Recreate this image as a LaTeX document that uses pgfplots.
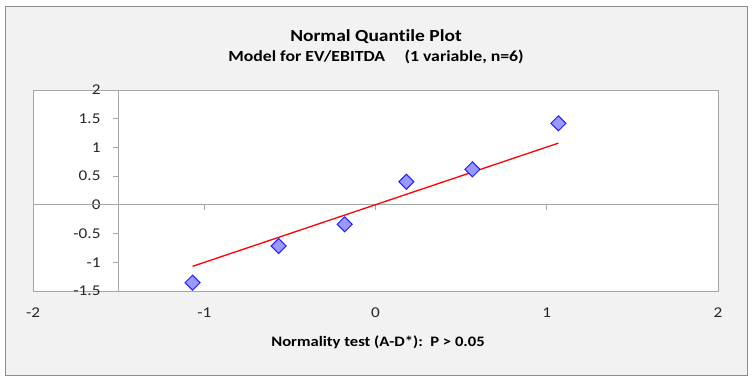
\documentclass[border=0pt]{standalone}
\usepackage{pgfplots}
\pgfplotsset{compat=1.18}
\usepackage{fontspec}
\setmainfont[FakeStretch=1.15, Ligatures={NoCommon}]{Carlito}
\definecolor{bgc}{HTML}{F2F2F2}
\definecolor{brd}{HTML}{8C8C8C}
\definecolor{axc}{HTML}{A6A6A6}
\definecolor{mkf}{HTML}{9999FF}
\definecolor{mke}{HTML}{1F1FFF}
\begin{document}
\begin{tikzpicture}[x=1bp,y=1bp]
\path[use as bounding box] (0,0) rectangle (752,382);
\fill[bgc] (5,7) rectangle (747,375);
\draw[brd,line width=1bp] (5,7) rectangle (747,375);
\node[font=\fontsize{17}{20}\selectfont\bfseries] at (376,345) {Normal Quantile Plot};
\node[font=\fontsize{15.5}{18}\selectfont\bfseries] at (376,325) {Model for EV/EBITDA\quad\ (1 variable, n=6)};
\node[font=\fontsize{14.5}{17}\selectfont\bfseries] at (378,40) {Normality test (A-D*):\ \ P > 0.05};
\begin{axis}[
  at={(33bp,91bp)}, anchor=south west,
  scale only axis, width=685bp, height=201bp,
  xmin=-2, xmax=2, ymin=-1.5, ymax=2,
  axis background/.style={fill=white},
  axis line style={draw=axc, line width=0.8bp},
  xtick={-2,-1,0,1,2}, ytick={-1.5,-1,-0.5,0,0.5,1,1.5,2},
  major tick length=0pt,
  tick label style={font=\fontsize{15}{18}\selectfont, text=black!85},
  /pgf/number format/assume math mode=true,
  x tick label style={yshift=-13bp},
  y tick label style={anchor=east, xshift=71bp},
  clip=false,
]
\draw[axc, line width=0.8bp] (axis cs:-2,0) -- (axis cs:2,0);
\draw[axc, line width=0.8bp] (axis cs:-1.5,-1.5) -- (axis cs:-1.5,2);
\pgfplotsinvokeforeach{-1,0,1}{ \draw[axc, line width=0.8bp] (axis cs:#1,0) -- ++(0bp,-5bp); }
\pgfplotsinvokeforeach{-1.5,-1,-0.5,0,0.5,1,1.5,2}{ \draw[axc, line width=0.8bp] (axis cs:-1.5,#1) -- ++(-6bp,0bp); }
\addplot[red, line width=1.3bp, no marks] coordinates {(-1.068,-1.07) (1.068,1.075)};
\addplot[only marks, mark=square*, mark size=5.3bp, mark options={rotate=45, fill=mkf, draw=mke, line width=1bp}]
coordinates {
(-1.068,-1.355)
(-0.566,-0.716)
(-0.180,-0.339)
(0.180,0.403)
(0.566,0.619)
(1.068,1.42)
};
\end{axis}
\end{tikzpicture}
\end{document}
